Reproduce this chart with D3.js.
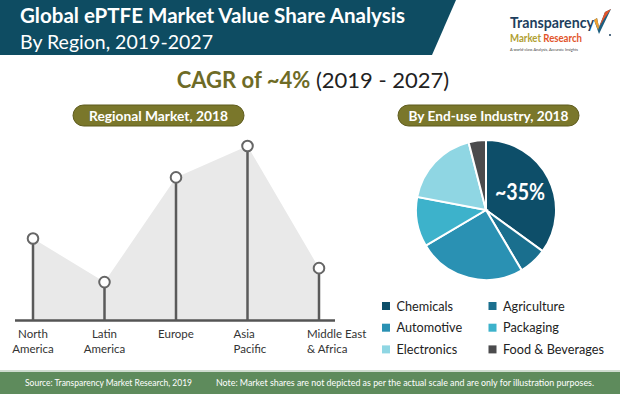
<!DOCTYPE html>
<html><head><meta charset="utf-8">
<script src="https://cdn.jsdelivr.net/npm/d3@7"></script>
<style>
html,body{margin:0;padding:0;background:#fff;}
svg{display:block;font-family:Lato,"Open Sans",sans-serif;}
</style></head>
<body>
<svg id="c" width="620" height="394"></svg>
<script>
// ---- data ----
const regions = ["North America","Latin America","Europe","Asia Pacific","Middle East & Africa"];
const regionLabelLines = [["North","America"],["Latin","America"],["Europe"],["Asia","Pacific"],["Middle East","& Africa"]];
const regionValues = [47, 22, 82, 100, 30];
const industries = ["Chemicals","Agriculture","Automotive","Packaging","Electronics","Food & Beverages"];
const industryShares = [35, 6.5, 25, 11.5, 18, 4];
const industryColors = ["#0d4e69","#1a6f8e","#2a91b3","#3db2cb","#8fd6e3","#4b4b4d"];
const titleLine1 = "Global ePTFE Market Value Share Analysis";
const titleLine2 = "By Region, 2019-2027";
const cagrBold = "CAGR of ~4%";
const cagrRest = " (2019 - 2027)";
const leftPill = "Regional Market, 2018";
const rightPill = "By End-use Industry, 2018";
const pieLabel = "~35%";
const sourceText = "Source: Transparency Market Research, 2019";
const noteText = "Note: Market shares are not depicted as per the actual scale and are only for illustration purposes.";

const svg = d3.select("#c");

// ---- header ----
svg.append("polygon").attr("points","0,0 456,0 432,55 0,55").attr("fill","#0e4c62");
svg.append("text").attr("x",20).attr("y",23).attr("fill","#fff").attr("font-weight","bold")
  .attr("font-size",20).attr("textLength",385).attr("lengthAdjust","spacingAndGlyphs").text(titleLine1);
svg.append("text").attr("x",20).attr("y",48.5).attr("fill","#fff")
  .attr("font-size",20).attr("textLength",193).attr("lengthAdjust","spacingAndGlyphs").text(titleLine2);

// ---- logo ----
const logo = svg.append("g");
logo.append("text").attr("x",510).attr("y",28).attr("fill","#1d3f5e").attr("font-weight","bold")
  .attr("font-size",14.5).attr("textLength",84).attr("lengthAdjust","spacingAndGlyphs").text("Transparency");
const lt = logo.append("text").attr("x",510).attr("y",41.5).attr("font-size",10.5).attr("font-weight","bold")
  .attr("textLength",72).attr("lengthAdjust","spacingAndGlyphs");
lt.append("tspan").attr("fill","#b0a032").text("Market ");
lt.append("tspan").attr("fill","#e2542b").text("Research");
logo.append("text").attr("x",510).attr("y",50.5).attr("font-size",3.6).attr("fill","#444")
  .attr("textLength",68).attr("lengthAdjust","spacingAndGlyphs").text("A world-class Analysis, Accurate Insights");
logo.append("path").attr("d","M594,20 L599,34 L611,9 L605,12 L599,27 L597,18 Z").attr("fill","#1d5f80");
logo.append("path").attr("d","M599,27 L605,12 L611,9 L604,19 Z").attr("fill","#e2542b");
logo.append("path").attr("d","M594,20 L597,18 L599,27 L598,30 Z").attr("fill","#f0a030");
logo.append("circle").attr("cx",610).attr("cy",35).attr("r",1).attr("fill","#1d3f5e");

// ---- CAGR ----
const ct = svg.append("text").attr("x",313).attr("y",88).attr("text-anchor","middle").attr("font-size",22);
ct.append("tspan").attr("fill","#6e6b26").attr("font-weight","bold").text(cagrBold);
ct.append("tspan").attr("fill","#222").text(cagrRest);

// ---- pills ----
function pill(x0,x1,label,tl){
  svg.append("rect").attr("x",x0).attr("y",105).attr("width",x1-x0).attr("height",21)
    .attr("rx",10.5).attr("fill","#7a772b").attr("stroke","#5d5a1c").attr("stroke-width",1);
  svg.append("text").attr("x",(x0+x1)/2).attr("y",120.5).attr("text-anchor","middle")
    .attr("fill","#fff").attr("font-weight","bold").attr("font-size",13.5)
    .attr("textLength",tl).attr("lengthAdjust","spacingAndGlyphs").text(label);
}
pill(73,244,leftPill,139);
pill(398,579,rightPill,160);

// ---- lollipop ----
const x = d3.scalePoint().domain(regions).range([33,319]);
const y = d3.scaleLinear().domain([0,100]).range([320.5,146]);
const area = d3.area().x((d,i)=>x(regions[i])).y0(y(0)).y1(d=>y(d));
svg.append("path").datum(regionValues).attr("d",area).attr("fill","#e9e9e9");
svg.append("line").attr("x1",15).attr("x2",335).attr("y1",y(0)).attr("y2",y(0))
  .attr("stroke","#555").attr("stroke-width",2.5);
const g = svg.append("g");
regionValues.forEach((v,i)=>{
  const cx = x(regions[i]);
  g.append("line").attr("x1",cx).attr("x2",cx).attr("y1",y(0)).attr("y2",y(v))
    .attr("stroke","#5a5a5a").attr("stroke-width",2.5);
  g.append("circle").attr("cx",cx).attr("cy",y(v)).attr("r",5.3)
    .attr("fill","#fff").attr("stroke","#666").attr("stroke-width",2);
  const left = i>=3;
  const t = g.append("text").attr("font-size",11.5).attr("fill","#333")
    .attr("text-anchor", left ? "start" : "middle");
  const tx = left ? cx - (i===3 ? 14 : 12) : cx;
  regionLabelLines[i].forEach((ln,j)=>{
    t.append("tspan").attr("x",tx).attr("y",338+j*15).text(ln);
  });
});

// ---- pie ----
const pie = d3.pie().sort(null).value(d=>d);
const arc = d3.arc().innerRadius(0).outerRadius(70);
const pg = svg.append("g").attr("transform","translate(486,210)");
pg.selectAll("path").data(pie(industryShares)).join("path")
  .attr("d",arc).attr("fill",(d,i)=>industryColors[i]).attr("stroke","#fff").attr("stroke-width",2);
pg.append("text").attr("x",34).attr("y",-10).attr("text-anchor","middle").attr("fill","#fff")
  .attr("font-size",22).attr("font-weight","bold").attr("textLength",50).attr("lengthAdjust","spacingAndGlyphs").text(pieLabel);

// ---- legend ----
const lg = svg.append("g");
industries.forEach((name,i)=>{
  const col = i%2, row = Math.floor(i/2);
  const lx = col===0 ? 386 : 492.5, ly = 306 + row*21.7;
  lg.append("rect").attr("x",lx-4).attr("y",ly-4).attr("width",8).attr("height",8).attr("fill",industryColors[i]);
  lg.append("text").attr("x",lx+10.5).attr("y",ly+4.5).attr("font-size",12.7).attr("fill","#222").text(name);
});

// ---- footer ----
svg.append("rect").attr("x",0).attr("y",370).attr("width",620).attr("height",2).attr("fill","#cfdccf");
svg.append("rect").attr("x",0).attr("y",372).attr("width",620).attr("height",22).attr("fill","#5e8b5c");
svg.append("text").attr("x",25).attr("y",386).attr("font-size",9).attr("fill","#fff")
  .attr("textLength",167).attr("lengthAdjust","spacingAndGlyphs").text(sourceText);
svg.append("text").attr("x",216).attr("y",386).attr("font-size",9).attr("fill","#fff")
  .attr("textLength",378).attr("lengthAdjust","spacingAndGlyphs").text(noteText);
</script>
</body></html>
